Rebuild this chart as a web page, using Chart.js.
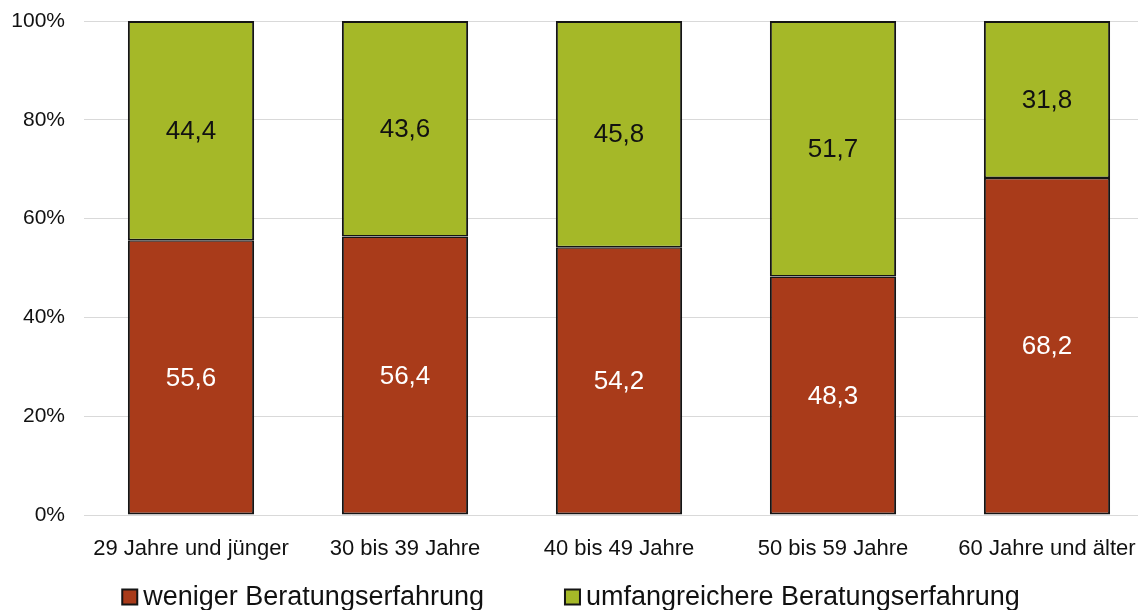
<!DOCTYPE html>
<html lang="de">
<head>
<meta charset="utf-8">
<title>Beratungserfahrung nach Altersgruppen</title>
<script src="https://cdn.jsdelivr.net/npm/chart.js@4/dist/chart.umd.min.js"></script>
<style>
  html, body { margin: 0; padding: 0; background: #ffffff; overflow: hidden; }
  #wrap { width: 1154px; height: 610px; }
  canvas { display: block; }
</style>
</head>
<body>
<div id="wrap"><canvas id="chart" width="1154" height="610"></canvas></div>
<script>
// Altersgruppen (Kategorien)
const categories = [
  '29 Jahre und jünger',
  '30 bis 39 Jahre',
  '40 bis 49 Jahre',
  '50 bis 59 Jahre',
  '60 Jahre und älter'
];

// Anteile in Prozent
const wenigerValues = [55.6, 56.4, 54.2, 48.3, 68.2];
const umfangreicherValues = [44.4, 43.6, 45.8, 51.7, 31.8];

const seriesNames = ['weniger Beratungserfahrung', 'umfangreichere Beratungserfahrung'];
const yTicks = [0, 20, 40, 60, 80, 100];

const FONT = '"Liberation Sans", Arial, Helvetica, sans-serif';
const RED = '#a93b1a';
const GREEN = '#a5b828';
const EDGE = '#151515';

// Wertbeschriftungen mittig in jedem Segment
const segmentLabels = {
  id: 'segmentLabels',
  afterDatasetsDraw(chart) {
    const ctx = chart.ctx;
    ctx.save();
    ctx.font = '26px ' + FONT;
    ctx.textAlign = 'center';
    ctx.textBaseline = 'middle';
    chart.data.datasets.forEach((ds, di) => {
      const meta = chart.getDatasetMeta(di);
      meta.data.forEach((bar, i) => {
        const p = bar.getProps(['x', 'y', 'base'], true);
        ctx.fillStyle = ds.labelColor;
        ctx.fillText(ds.data[i].toFixed(1).replace('.', ','), p.x, (p.y + p.base) / 2 + 1);
      });
    });
    ctx.restore();
  }
};

// Legende unter dem Diagramm
const bottomLegend = {
  id: 'bottomLegend',
  afterDraw(chart) {
    const ctx = chart.ctx;
    const box = 15, gapText = 6, gapItem = 81, y = 597;
    ctx.save();
    ctx.font = '27px ' + FONT;
    ctx.textBaseline = 'middle';
    ctx.textAlign = 'left';
    const items = chart.data.datasets.map(ds => ({
      text: ds.label, color: ds.backgroundColor, w: ctx.measureText(ds.label).width
    }));
    let total = 0;
    items.forEach((it, i) => { total += box + gapText + it.w + (i ? gapItem : 0); });
    let x = 571 - total / 2;
    items.forEach(it => {
      ctx.fillStyle = it.color;
      ctx.fillRect(x, y - box / 2, box, box);
      ctx.strokeStyle = EDGE;
      ctx.lineWidth = 2;
      ctx.strokeRect(x, y - box / 2, box, box);
      ctx.fillStyle = '#111111';
      ctx.fillText(it.text, x + box + gapText, y + 1);
      x += box + gapText + it.w + gapItem;
    });
    ctx.restore();
  }
};

new Chart(document.getElementById('chart'), {
  type: 'bar',
  data: {
    labels: categories,
    datasets: [
      {
        label: seriesNames[0],
        data: wenigerValues,
        backgroundColor: RED,
        borderColor: EDGE,
        borderWidth: { top: 1.5, right: 2, bottom: 2, left: 2 },
        borderSkipped: false,
        inflateAmount: 0,
        labelColor: '#ffffff'
      },
      {
        label: seriesNames[1],
        data: umfangreicherValues,
        backgroundColor: GREEN,
        borderColor: EDGE,
        borderWidth: { top: 2, right: 2, bottom: 1.5, left: 2 },
        borderSkipped: false,
        inflateAmount: 0,
        labelColor: '#111111'
      }
    ]
  },
  options: {
    responsive: false,
    animation: false,
    devicePixelRatio: 1,
    layout: { padding: { top: 0, right: 0, bottom: 50, left: 0 } },
    datasets: { bar: { barPercentage: 0.59, categoryPercentage: 1.0 } },
    plugins: {
      legend: { display: false },
      tooltip: { enabled: false }
    },
    scales: {
      x: {
        stacked: true,
        grid: { display: false },
        border: { display: false },
        ticks: {
          font: { family: FONT, size: 22 },
          color: '#111111',
          padding: 13,
          maxRotation: 0,
          autoSkip: false
        },
        afterFit(scale) { scale.height = 45; }
      },
      y: {
        stacked: true,
        min: 0,
        max: 100,
        afterBuildTicks(scale) { scale.ticks = yTicks.map(v => ({ value: v })); },
        grid: { color: '#d9d9d9', lineWidth: 1, drawTicks: false },
        border: { display: false },
        ticks: {
          font: { family: FONT, size: 21 },
          color: '#111111',
          padding: 19,
          callback: v => v + '%'
        },
        afterFit(scale) {
          scale.width = 84;
          scale.paddingTop = 21;
          scale.paddingBottom = 0;
        }
      }
    }
  },
  plugins: [segmentLabels, bottomLegend]
});
</script>
</body>
</html>
